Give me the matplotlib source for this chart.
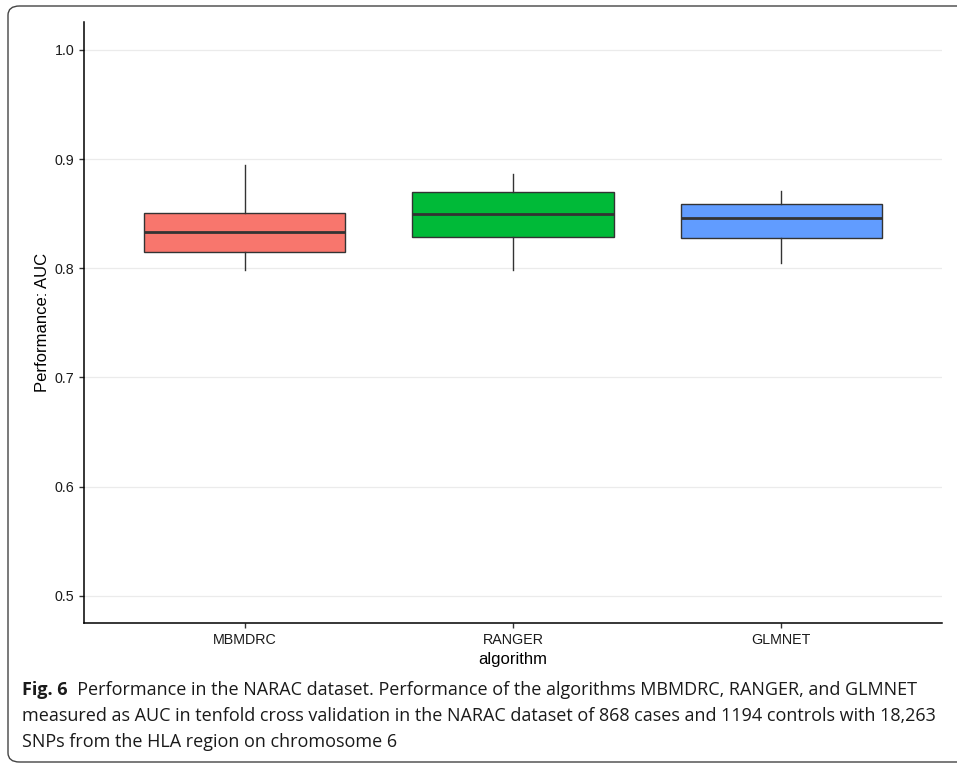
import matplotlib
matplotlib.use('Agg')
import matplotlib.pyplot as plt
from matplotlib.patches import FancyBboxPatch

algorithms = ['MBMDRC', 'RANGER', 'GLMNET']
colors = ['#F8766D', '#00BA38', '#619CFF']
whisker_low = [0.7984, 0.7984, 0.8045]
q1 = [0.8151, 0.8286, 0.8277]
median = [0.8332, 0.8500, 0.8460]
q3 = [0.8508, 0.8695, 0.8585]
whisker_high = [0.8945, 0.8863, 0.8707]
yticks = [0.5, 0.6, 0.7, 0.8, 0.9, 1.0]

caption_bold = 'Fig. 6'
caption_lines = [
    '  Performance in the NARAC dataset. Performance of the algorithms MBMDRC, RANGER, and GLMNET',
    'measured as AUC in tenfold cross validation in the NARAC dataset of 868 cases and 1194 controls with 18,263',
    'SNPs from the HLA region on chromosome 6',
]

plt.rcParams['font.family'] = ['Liberation Sans', 'DejaVu Sans']

fig = plt.figure(figsize=(9.57, 7.65), dpi=100)
ax = fig.add_axes([0.0878, 0.1856, 0.8965, 0.7856])

stats = []
for i, name in enumerate(algorithms):
    stats.append(dict(label=name, whislo=whisker_low[i], q1=q1[i], med=median[i],
                      q3=q3[i], whishi=whisker_high[i], fliers=[]))
bp = ax.bxp(stats, positions=[1, 2, 3], widths=0.75, patch_artist=True,
            showcaps=False,
            boxprops=dict(edgecolor='#333333', linewidth=1.0),
            medianprops=dict(color='#333333', linewidth=2.0),
            whiskerprops=dict(color='#333333', linewidth=1.0))
for patch, c in zip(bp['boxes'], colors):
    patch.set_facecolor(c)

ax.set_xlim(0.4, 3.6)
ax.set_ylim(0.475, 1.0256)
ax.set_yticks(yticks)
ax.set_yticklabels(['%.1f' % v for v in yticks])
ax.yaxis.grid(True, color='#EBEBEB', linewidth=0.9)
ax.set_axisbelow(True)
for s in ['top', 'right']:
    ax.spines[s].set_visible(False)
for s in ['left', 'bottom']:
    ax.spines[s].set_linewidth(1.1)
    ax.spines[s].set_color('black')
ax.tick_params(axis='both', colors='#333333', labelcolor='#1a1a1a',
               labelsize=10.3, length=3.5, width=1)
ax.set_xlabel('algorithm', fontsize=12, labelpad=4)
ax.set_ylabel('Performance: AUC', fontsize=12, labelpad=3)

# caption text
cap_font = ['Open Sans', 'DejaVu Sans']
cap_size = 13
t = fig.text(22 / 957, 1 - 690 / 765, caption_bold, fontsize=cap_size, fontweight='bold',
             family=cap_font, va='center', ha='left', color='#1a1a1a')
fig.canvas.draw()
bb = t.get_window_extent()
fig.text(bb.x1 / 957, 1 - 690 / 765, caption_lines[0], fontsize=cap_size,
         family=cap_font, va='center', ha='left', color='#1a1a1a')
fig.text(22 / 957, 1 - 716 / 765, caption_lines[1], fontsize=cap_size,
         family=cap_font, va='center', ha='left', color='#1a1a1a')
fig.text(22 / 957, 1 - 742 / 765, caption_lines[2], fontsize=cap_size,
         family=cap_font, va='center', ha='left', color='#1a1a1a')

frame = FancyBboxPatch((8 / 957, 3 / 765), 1.2, 756 / 765,
                       boxstyle='round,pad=0,rounding_size=0.012',
                       transform=fig.transFigure, fill=False,
                       edgecolor='#444444', linewidth=1.0, clip_on=False)
fig.patches.append(frame)

fig.savefig('out.png', dpi=100)
